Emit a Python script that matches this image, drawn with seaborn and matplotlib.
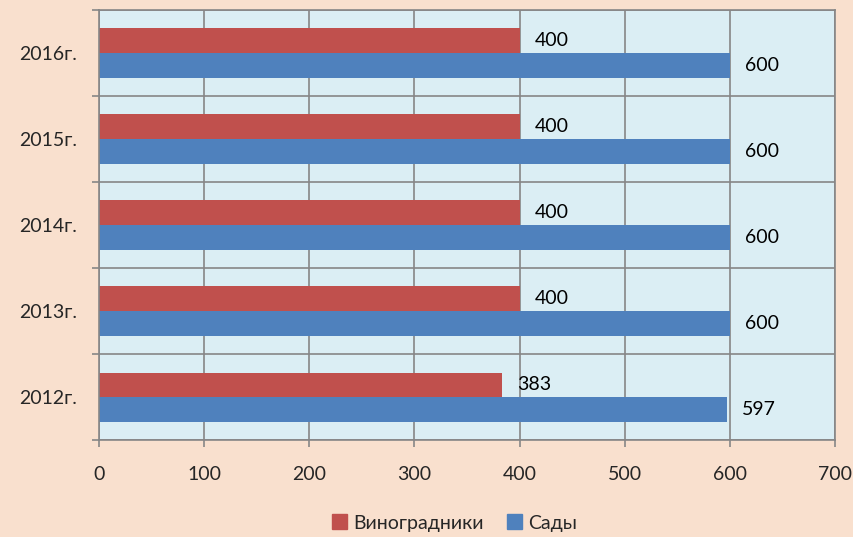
import matplotlib
matplotlib.use('Agg')
import matplotlib.pyplot as plt
import seaborn as sns
import pandas as pd
import numpy as np

years = ['2016г.', '2015г.', '2014г.', '2013г.', '2012г.']
vineyards = [400, 400, 400, 400, 383]
gardens = [600, 600, 600, 600, 597]
series_names = ['Виноградники', 'Сады']
x_ticks = [0, 100, 200, 300, 400, 500, 600, 700]

df = pd.DataFrame({
    'year': years * 2,
    'value': vineyards + gardens,
    'series': [series_names[0]] * len(years) + [series_names[1]] * len(years),
})

sns.set_theme(style='white')
plt.rcParams['font.family'] = ['Lato', 'DejaVu Sans']

bg = '#F9E0CE'
plot_bg = '#DBEEF4'
grid_c = '#868686'
palette = {series_names[0]: '#C0504D', series_names[1]: '#4F81BD'}
fs = 14

fig = plt.figure(figsize=(8.54, 5.37), dpi=100, facecolor=bg)
ax = fig.add_axes([0.1159, 0.1806, 0.8619, 0.8008])
ax.set_facecolor(plot_bg)

sns.barplot(data=df, y='year', x='value', hue='series', order=years,
            hue_order=series_names, palette=palette, orient='h',
            width=0.57, gap=0, ax=ax, legend=False, saturation=1,
            linewidth=0)

for cont in ax.containers:
    ax.bar_label(cont, padding=11, fontsize=fs, color='black')

ax.set_xlim(0, 700)
ax.set_xticks(x_ticks)
ax.set_ylim(len(years) - 0.5, -0.5)
ax.set_yticks(np.arange(-0.5, len(years), 1.0), minor=True)
ax.set_xlabel('')
ax.set_ylabel('')

ax.grid(axis='x', which='major', color=grid_c, linewidth=1.2)
ax.grid(axis='y', which='minor', color=grid_c, linewidth=1.2)
ax.set_axisbelow(True)

ax.tick_params(axis='x', which='major', direction='out', length=5, width=1.2,
               color=grid_c, labelsize=fs, pad=14, bottom=True)
ax.tick_params(axis='y', which='major', length=0, labelsize=fs, pad=16)
ax.tick_params(axis='y', which='minor', direction='out', length=5, width=1.2,
               color=grid_c, left=True)
for s in ax.spines.values():
    s.set_color(grid_c)
    s.set_linewidth(1.2)

handles = [plt.Rectangle((0, 0), 1, 1, color=palette[n]) for n in series_names]
fig.legend(handles, series_names, loc='center', bbox_to_anchor=(0.532, 0.026),
           ncol=2, frameon=False, fontsize=fs, handlelength=0.8,
           handleheight=0.8, handletextpad=0.3, columnspacing=1.2)

fig.savefig('out.png', dpi=100, facecolor=bg)
